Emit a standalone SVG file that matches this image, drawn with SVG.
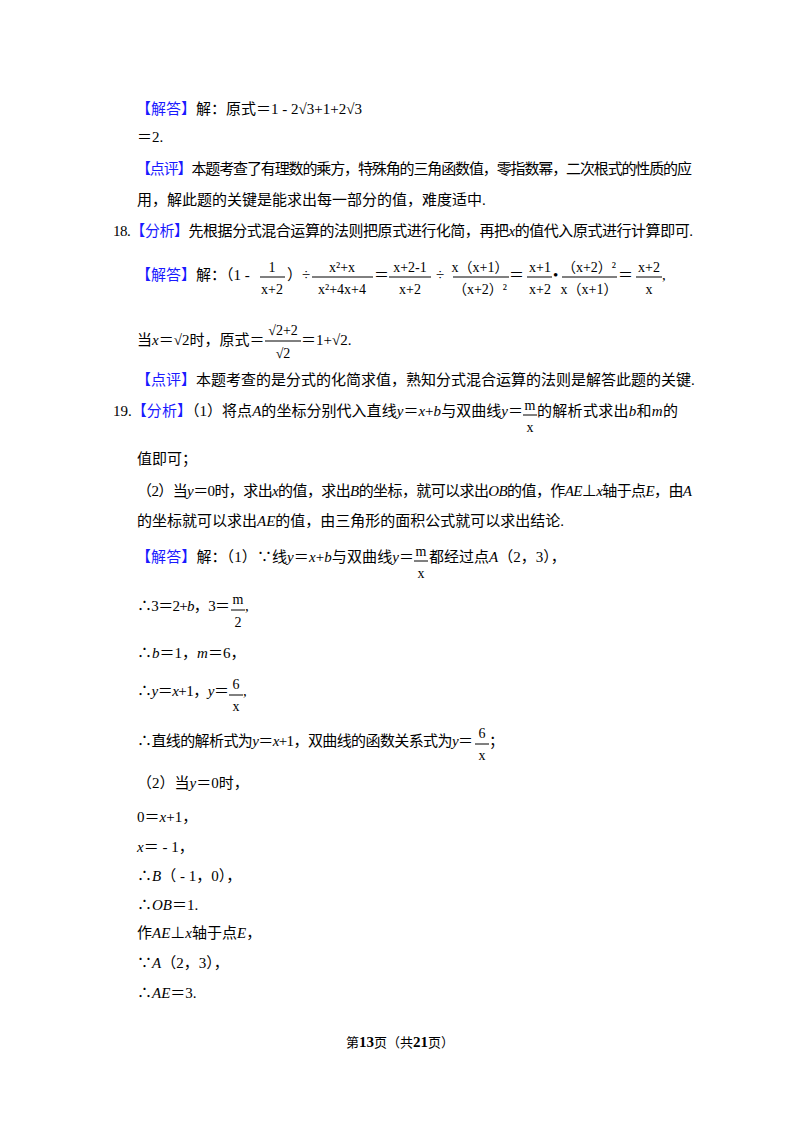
<svg xmlns="http://www.w3.org/2000/svg" width="800" height="1132" viewBox="0 0 800 1132">
<style>
text{font-family:"Liberation Serif","Noto Sans CJK SC",serif;font-size:15px;fill:#000}
.b{fill:#1a1aff}
.i{font-style:italic}
.m{text-anchor:middle;font-size:14px}
line{stroke:#000;stroke-width:1}
</style>
<rect width="800" height="1132" fill="#fff"/>
<text x="136" y="114"><tspan class="b">【解答】</tspan>解：原式＝1 - 2√3+1+2√3</text>
<text x="137" y="142">＝2.</text>
<text x="136" y="174" textLength="556"><tspan class="b">【点评】</tspan>本题考查了有理数的乘方，特殊角的三角函数值，零指数幂，二次根式的性质的应</text>
<text x="137" y="205">用，解此题的关键是能求出每一部分的值，难度适中.</text>
<text x="113" y="236" textLength="580">18.<tspan class="b">【分析】</tspan>先根据分式混合运算的法则把原式进行化简，再把<tspan class="i">x</tspan>的值代入原式进行计算即可.</text>
<g id="eq1">
<text x="136" y="280"><tspan class="b">【解答】</tspan>解：（1 -</text>
<text class="m" x="272" y="272">1</text><line x1="260" y1="277" x2="285" y2="277"/><text class="m" x="272" y="294">x+2</text>
<text x="287" y="280">）÷</text>
<text class="m" x="342" y="272">x²+x</text><line x1="312" y1="277" x2="373" y2="277"/><text class="m" x="342" y="294">x²+4x+4</text>
<text x="374" y="280">＝</text>
<text class="m" x="410" y="272">x+2-1</text><line x1="389" y1="277" x2="431" y2="277"/><text class="m" x="410" y="294">x+2</text>
<text x="436" y="280">÷</text>
<text class="m" x="480" y="272">x（x+1）</text><line x1="453" y1="277" x2="509" y2="277"/><text class="m" x="480" y="294">（x+2）²</text>
<text x="509" y="280">＝</text>
<text class="m" x="540" y="272">x+1</text><line x1="527" y1="277" x2="552" y2="277"/><text class="m" x="540" y="294">x+2</text>
<text x="553" y="280">•</text>
<text class="m" x="589" y="272">（x+2）²</text><line x1="562" y1="277" x2="617" y2="277"/><text class="m" x="589" y="294">x（x+1）</text>
<text x="618" y="280">＝</text>
<text class="m" x="649" y="272">x+2</text><line x1="636" y1="277" x2="662" y2="277"/><text class="m" x="649" y="294">x</text>
<text x="662" y="280">,</text>
</g>
<g id="eq2">
<text x="137" y="345">当<tspan class="i">x</tspan>＝√2时，原式＝</text>
<text class="m" x="283" y="335">√2+2</text><line x1="265" y1="341" x2="301" y2="341"/><text class="m" x="283" y="358">√2</text>
<text x="301" y="345">＝1+√2.</text>
</g>
<text x="136" y="385"><tspan class="b">【点评】</tspan>本题考查的是分式的化简求值，熟知分式混合运算的法则是解答此题的关键.</text>
<text x="113" y="416" textLength="410">19.<tspan class="b">【分析】</tspan>（1）将点<tspan class="i">A</tspan>的坐标分别代入直线<tspan class="i">y</tspan>＝<tspan class="i">x</tspan>+<tspan class="i">b</tspan>与双曲线<tspan class="i">y</tspan>＝</text>
<text class="m" x="530" y="410">m</text><line x1="523" y1="415" x2="537" y2="415"/><text class="m" x="530" y="432">x</text>
<text x="537" y="416" textLength="141">的解析式求出<tspan class="i">b</tspan>和<tspan class="i">m</tspan>的</text>
<text x="137" y="464">值即可；</text>
<text x="137" y="496" textLength="555">（2）当<tspan class="i">y</tspan>＝0时，求出<tspan class="i">x</tspan>的值，求出<tspan class="i">B</tspan>的坐标，就可以求出<tspan class="i">OB</tspan>的值，作<tspan class="i">AE</tspan>⊥<tspan class="i">x</tspan>轴于点<tspan class="i">E</tspan>，由<tspan class="i">A</tspan></text>
<text x="137" y="526">的坐标就可以求出<tspan class="i">AE</tspan>的值，由三角形的面积公式就可以求出结论.</text>
<text x="136" y="562" textLength="278"><tspan class="b">【解答】</tspan>解：（1）∵线<tspan class="i">y</tspan>＝<tspan class="i">x</tspan>+<tspan class="i">b</tspan>与双曲线<tspan class="i">y</tspan>＝</text>
<text class="m" x="421" y="556">m</text><line x1="414" y1="561" x2="428" y2="561"/><text class="m" x="421" y="578">x</text>
<text x="429" y="562">都经过点<tspan class="i">A</tspan>（2，3），</text>
<text x="137" y="611" textLength="93">∴3＝2+<tspan class="i">b</tspan>，3＝</text>
<text class="m" x="238" y="604">m</text><line x1="231" y1="610" x2="245" y2="610"/><text class="m" x="238" y="627">2</text>
<text x="245" y="611">,</text>
<text x="137" y="658">∴<tspan class="i">b</tspan>＝1，<tspan class="i">m</tspan>＝6，</text>
<text x="137" y="696" textLength="92">∴<tspan class="i">y</tspan>＝<tspan class="i">x</tspan>+1，<tspan class="i">y</tspan>＝</text>
<text class="m" x="236" y="689">6</text><line x1="229" y1="695" x2="243" y2="695"/><text class="m" x="236" y="711">x</text>
<text x="243" y="696">,</text>
<text x="137" y="746" textLength="336">∴直线的解析式为<tspan class="i">y</tspan>＝<tspan class="i">x</tspan>+1，双曲线的函数关系式为<tspan class="i">y</tspan>＝</text>
<text class="m" x="482" y="738">6</text><line x1="475" y1="744" x2="489" y2="744"/><text class="m" x="482" y="760">x</text>
<text x="489" y="746">；</text>
<text x="137" y="788">（2）当<tspan class="i">y</tspan>＝0时，</text>
<text x="137" y="822">0＝<tspan class="i">x</tspan>+1，</text>
<text x="137" y="852"><tspan class="i">x</tspan>＝ - 1，</text>
<text x="137" y="881">∴<tspan class="i">B</tspan>（ - 1，0），</text>
<text x="137" y="910">∴<tspan class="i">OB</tspan>＝1.</text>
<text x="137" y="938">作<tspan class="i">AE</tspan>⊥<tspan class="i">x</tspan>轴于点<tspan class="i">E</tspan>，</text>
<text x="137" y="968">∵<tspan class="i">A</tspan>（2，3），</text>
<text x="137" y="998">∴<tspan class="i">AE</tspan>＝3.</text>
<text x="400" y="1047" text-anchor="middle" style="font-size:13px">第<tspan font-weight="bold" font-size="15">13</tspan>页（共<tspan font-weight="bold" font-size="15">21</tspan>页）</text>
</svg>
